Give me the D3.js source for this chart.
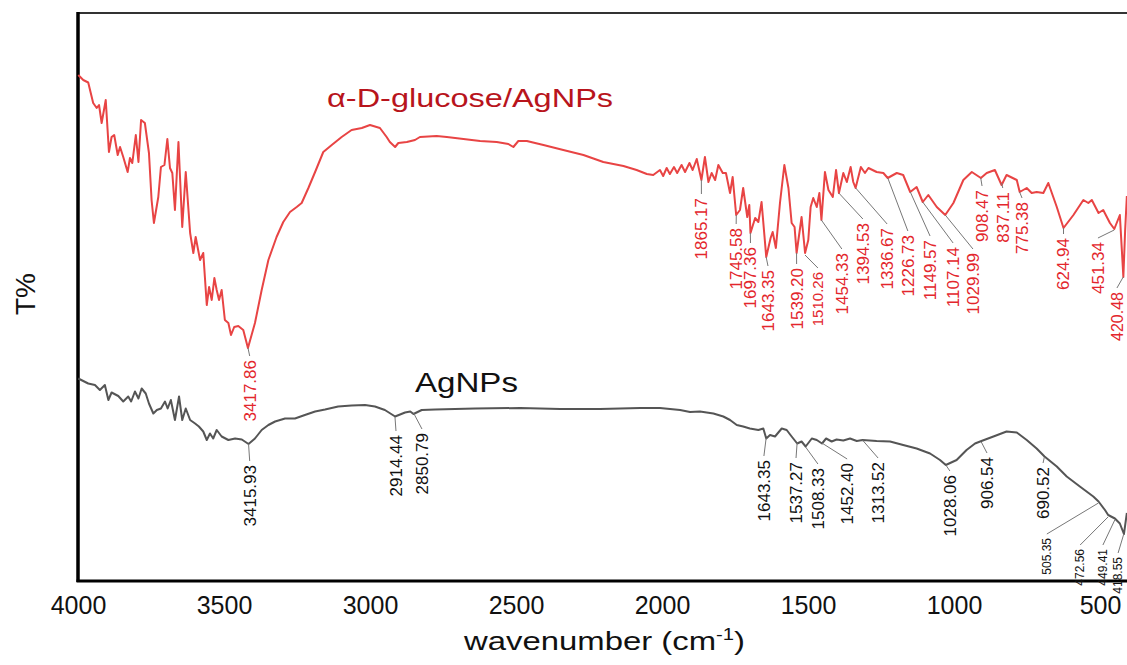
<!DOCTYPE html>
<html>
<head>
<meta charset="UTF-8">
<script src="https://d3js.org/d3.v7.min.js"></script>
<style>
  body { margin: 0; background: #fff; }
  svg { display: block; font-family: "Liberation Sans", Arial, sans-serif; }
</style>
</head>
<body>
<svg width="1127" height="665"></svg>
<script>
// tick labels on the wavenumber axis
const xTicks = [4000, 3500, 3000, 2500, 2000, 1500, 1000, 500];

// alpha-D-glucose/AgNPs spectrum: [wavenumber, T (arb.)]
const glucoseSpectrum = [
  [3999, 101.2], [3982, 100.2], [3965, 99.7], [3948, 95.6], [3936, 94.6], [3928, 95.2],
  [3919, 91.6], [3905, 96.2], [3894, 85.8], [3885, 88.8], [3876, 89.2], [3864, 85.2],
  [3856, 86.8], [3845, 84.8], [3830, 81.8], [3822, 84.6], [3814, 83.6], [3802, 89.2],
  [3793, 83.8], [3784, 92.2], [3771, 91.6], [3757, 85.6], [3748, 76.2], [3740, 71.6],
  [3725, 76.8], [3716, 82.8], [3704, 83.2], [3694, 88.4], [3685, 82.6], [3677, 81.6],
  [3668, 74.2], [3656, 87.8], [3643, 70.8], [3631, 81.8], [3616, 69.6], [3605, 65.6],
  [3597, 68.8], [3582, 64.2], [3571, 65.6], [3559, 55.2], [3551, 58.8], [3542, 56.2],
  [3533, 60.6], [3525, 58.2], [3517, 56.2], [3508, 58.2], [3497, 52.2], [3485, 51.6],
  [3476, 49.2], [3465, 50.8], [3451, 51.0], [3434, 50.2], [3418, 46.6], [3394, 51.6],
  [3371, 58.2], [3348, 64.2], [3320, 68.8], [3297, 71.8], [3274, 73.8], [3251, 74.8],
  [3234, 75.6], [3211, 78.6], [3188, 81.8], [3160, 85.8], [3131, 87.2], [3097, 88.8],
  [3063, 90.2], [3028, 90.6], [3000, 91.2], [2966, 90.6], [2943, 88.8], [2932, 87.8],
  [2914, 86.8], [2903, 87.6], [2874, 87.8], [2846, 88.2], [2829, 88.8], [2772, 89.0],
  [2737, 88.8], [2680, 88.4], [2623, 88.0], [2566, 87.8], [2526, 87.4], [2509, 86.8],
  [2492, 88.0], [2463, 88.0], [2406, 87.2], [2338, 86.2], [2269, 85.2], [2201, 83.8],
  [2132, 83.0], [2087, 82.2], [2052, 81.4], [2030, 81.2], [2007, 82.2], [1996, 81.0],
  [1984, 82.6], [1973, 81.4], [1959, 82.8], [1948, 81.6], [1933, 83.2], [1921, 81.8],
  [1906, 83.6], [1895, 82.2], [1881, 84.4], [1865, 80.2], [1853, 84.8], [1841, 79.8],
  [1830, 81.6], [1818, 80.2], [1807, 83.2], [1792, 81.6], [1781, 81.6], [1767, 77.6],
  [1758, 80.8], [1746, 73.2], [1733, 74.2], [1722, 78.6], [1708, 72.8], [1701, 75.2],
  [1697, 69.6], [1681, 72.6], [1670, 71.8], [1659, 75.8], [1643, 64.8], [1628, 68.6],
  [1621, 69.8], [1610, 66.6], [1596, 75.6], [1581, 83.2], [1567, 78.6], [1556, 71.6],
  [1546, 70.8], [1539, 65.6], [1522, 72.8], [1510, 65.6], [1499, 68.2], [1491, 74.8],
  [1482, 76.6], [1470, 74.8], [1461, 77.6], [1454, 72.2], [1442, 81.8], [1430, 78.2],
  [1415, 76.8], [1404, 82.2], [1394, 77.6], [1379, 81.6], [1367, 79.8], [1354, 82.8],
  [1345, 79.8], [1337, 78.6], [1319, 82.8], [1305, 81.6], [1293, 82.6], [1265, 81.8],
  [1242, 81.6], [1227, 80.6], [1196, 81.6], [1174, 81.2], [1150, 77.8], [1128, 78.8],
  [1107, 75.8], [1088, 77.2], [1059, 74.8], [1030, 73.2], [1002, 75.6], [968, 80.2],
  [939, 81.8], [908, 80.6], [888, 81.6], [860, 82.2], [837, 79.2], [820, 81.2],
  [785, 80.2], [775, 77.8], [751, 78.6], [734, 77.6], [717, 77.8], [694, 77.6],
  [677, 79.6], [648, 74.8], [625, 70.6], [591, 73.2], [557, 76.2], [540, 75.6],
  [528, 76.2], [505, 73.6], [489, 74.2], [466, 71.6], [451, 70.4], [432, 73.2],
  [425, 66.0], [420, 60.8], [414, 70.0], [408, 77.0]
];

// AgNPs spectrum: [wavenumber, T (arb.)]
const agSpectrum = [
  [3999, 40.5], [3965, 39.5], [3942, 39.2], [3925, 38.2], [3908, 39.2], [3896, 36.2],
  [3885, 37.7], [3862, 37.0], [3845, 35.9], [3828, 36.9], [3818, 35.9], [3805, 37.9],
  [3793, 36.5], [3782, 38.5], [3768, 37.5], [3757, 35.5], [3742, 33.5], [3730, 34.2],
  [3716, 34.5], [3702, 35.9], [3693, 34.5], [3682, 36.2], [3668, 32.2], [3654, 36.9],
  [3643, 32.2], [3631, 34.5], [3616, 32.2], [3599, 31.5], [3586, 30.9], [3571, 29.9],
  [3559, 28.2], [3548, 29.5], [3537, 28.5], [3525, 30.2], [3508, 28.9], [3485, 28.2],
  [3462, 28.5], [3439, 28.3], [3416, 27.4], [3394, 28.5], [3371, 30.2], [3348, 31.2],
  [3325, 31.9], [3291, 32.5], [3257, 32.5], [3223, 33.2], [3188, 33.9], [3154, 34.3],
  [3109, 34.9], [3063, 35.1], [3017, 35.2], [2983, 34.9], [2949, 34.2], [2914, 32.9],
  [2880, 33.7], [2862, 33.9], [2851, 33.4], [2823, 34.2], [2777, 34.3], [2709, 34.4],
  [2640, 34.5], [2486, 34.6], [2349, 34.4], [2212, 34.4], [2075, 34.6], [2007, 34.6],
  [1938, 34.2], [1904, 33.8], [1870, 33.9], [1824, 33.5], [1790, 32.9], [1767, 32.2],
  [1744, 31.2], [1722, 30.9], [1699, 30.5], [1670, 30.2], [1653, 30.5], [1643, 28.5],
  [1630, 29.2], [1613, 28.9], [1590, 30.5], [1573, 30.2], [1556, 28.9], [1537, 27.5],
  [1522, 27.9], [1508, 26.9], [1487, 28.5], [1470, 28.2], [1452, 27.5], [1438, 28.5],
  [1419, 27.9], [1402, 28.3], [1379, 28.1], [1356, 28.5], [1333, 28.0], [1313, 28.2],
  [1265, 28.0], [1219, 27.9], [1174, 27.2], [1128, 26.5], [1082, 25.5], [1048, 24.2],
  [1028, 23.2], [991, 24.2], [957, 26.2], [928, 27.5], [906, 28.0], [865, 28.9],
  [820, 29.9], [785, 29.7], [751, 28.2], [717, 26.5], [690, 24.9], [648, 22.9],
  [614, 20.9], [569, 18.9], [523, 16.9], [505, 15.9], [483, 14.2], [472, 13.2],
  [449, 12.5], [432, 11.5], [418, 9.4], [408, 13.6]
];

// peak labels: [text, T at peak, wavenumber of label, T where leader ends, font size]
const glucosePeaks = [
  ["3417.86", 46.6, 3412, 45.0, 17],
  ["1865.17", 80.2, 1865, 77.4, 17],
  ["1745.58", 73.2, 1746, 71.4, 17],
  ["1697.36", 69.6, 1697, 67.6, 17],
  ["1643.35", 64.8, 1637, 63.0, 17],
  ["1539.20", 65.6, 1539, 63.4, 17],
  ["1510.26", 65.2, 1466, 62.6, 15],
  ["1454.33", 72.2, 1384, 66.4, 17],
  ["1394.53", 77.6, 1312, 72.4, 17],
  ["1336.67", 78.6, 1229, 71.4, 17],
  ["1226.73", 80.6, 1158, 70.0, 17],
  ["1149.57", 77.8, 1082, 69.0, 17],
  ["1107.14", 75.8, 1003, 67.6, 17],
  ["1029.99", 73.2, 935, 66.4, 17],
  ["908.47", 80.6, 904, 79.0, 17],
  ["837.11", 79.6, 833, 78.6, 17],
  ["775.38", 77.8, 767, 76.6, 17],
  ["624.94", 70.6, 625, 69.4, 17],
  ["451.34", 70.2, 507, 68.6, 17],
  ["420.48", 60.8, 442, 58.6, 16]
];

const agPeaks = [
  ["3415.93", 27.4, 3412, 24.0, 17],
  ["2914.44", 32.8, 2911, 30.0, 17],
  ["2850.79", 33.6, 2822, 30.4, 17],
  ["1643.35", 28.6, 1651, 25.0, 17],
  ["1537.27", 27.6, 1541, 24.6, 17],
  ["1508.33", 26.8, 1466, 23.4, 17],
  ["1452.40", 27.6, 1366, 24.4, 17],
  ["1313.52", 28.2, 1260, 24.6, 17],
  ["1028.06", 23.2, 1014, 22.0, 17],
  ["906.54", 27.8, 887, 25.6, 17],
  ["690.52", 24.8, 695, 23.6, 17],
  ["505.35", 15.6, 682, 9.4, 12],
  ["472.56", 12.8, 568, 7.2, 12],
  ["449.41", 12.2, 490, 7.2, 12],
  ["418.55", 9.4, 438, 5.6, 12]
];

const svg = d3.select("svg");
const plotLeft = 78, plotTop = 13, plotBottom = 581;

const x = d3.scaleLinear().domain([4000, 400]).range([plotLeft, plotLeft + 3600 * 0.292]);
const y = d3.scaleLinear().domain([0, 113.6]).range([plotBottom, plotTop]);

const line = d3.line().x(d => x(d[0])).y(d => y(d[1]));

// frame
svg.append("line").attr("x1", plotLeft).attr("x2", 1127).attr("y1", plotTop).attr("y2", plotTop)
  .attr("stroke", "#333").attr("stroke-width", 2);
svg.append("line").attr("x1", plotLeft).attr("x2", plotLeft).attr("y1", plotTop - 1).attr("y2", plotBottom + 1)
  .attr("stroke", "#000").attr("stroke-width", 3.5);

// x axis
const xAxis = svg.append("g")
  .attr("transform", "translate(0," + plotBottom + ")")
  .call(d3.axisBottom(x).tickValues(xTicks).tickFormat(d3.format("d")).tickSize(0).tickPadding(15));
xAxis.select(".domain").remove();
xAxis.selectAll("text").attr("font-size", 25).attr("fill", "#111")
  .attr("font-family", "Liberation Sans, Arial, sans-serif");
svg.append("line").attr("x1", plotLeft - 1.5).attr("x2", 1127).attr("y1", plotBottom).attr("y2", plotBottom)
  .attr("stroke", "#000").attr("stroke-width", 3);

// spectra
svg.append("path").datum(agSpectrum).attr("d", line)
  .attr("fill", "none").attr("stroke", "#555").attr("stroke-width", 2).attr("stroke-linejoin", "round");
svg.append("path").datum(glucoseSpectrum).attr("d", line)
  .attr("fill", "none").attr("stroke", "#e84444").attr("stroke-width", 2).attr("stroke-linejoin", "round");

function drawPeaks(peaks, color) {
  const g = svg.append("g");
  peaks.forEach(p => {
    const x1 = x(parseFloat(p[0])), y1 = y(p[1]);
    const x2 = x(p[2]), y2 = y(p[3]);
    g.append("line").attr("x1", x1).attr("y1", y1).attr("x2", x2).attr("y2", y2)
      .attr("stroke", "#777").attr("stroke-width", 1);
    g.append("text")
      .attr("transform", "translate(" + x2 + "," + (y2 + 4) + ") rotate(-90)")
      .attr("text-anchor", "end")
      .attr("dy", "0.35em")
      .attr("font-size", p[4])
      .attr("fill", color)
      .text(p[0]);
  });
}
drawPeaks(glucosePeaks, "#e3262c");
drawPeaks(agPeaks, "#111");

// series names
svg.append("text").attr("x", x(3147)).attr("y", y(94.8))
  .attr("font-size", 25).attr("fill", "#b8141c")
  .attr("textLength", 286).attr("lengthAdjust", "spacingAndGlyphs")
  .text("α-D-glucose/AgNPs");
svg.append("text").attr("x", 415).attr("y", 392)
  .attr("font-size", 27).attr("fill", "#111")
  .attr("textLength", 103).attr("lengthAdjust", "spacingAndGlyphs")
  .text("AgNPs");

// axis titles
const xt = svg.append("text").attr("x", 464).attr("y", 650)
  .attr("font-size", 26).attr("fill", "#111")
  .attr("textLength", 281).attr("lengthAdjust", "spacingAndGlyphs");
xt.append("tspan").text("wavenumber (cm");
xt.append("tspan").attr("dy", -10).attr("font-size", 16).text("-1");
xt.append("tspan").attr("dy", 10).text(")");

svg.append("text").attr("transform", "translate(35,294) rotate(-90)")
  .attr("text-anchor", "middle").attr("font-size", 28).attr("fill", "#111")
  .text("T%");
</script>
</body>
</html>
